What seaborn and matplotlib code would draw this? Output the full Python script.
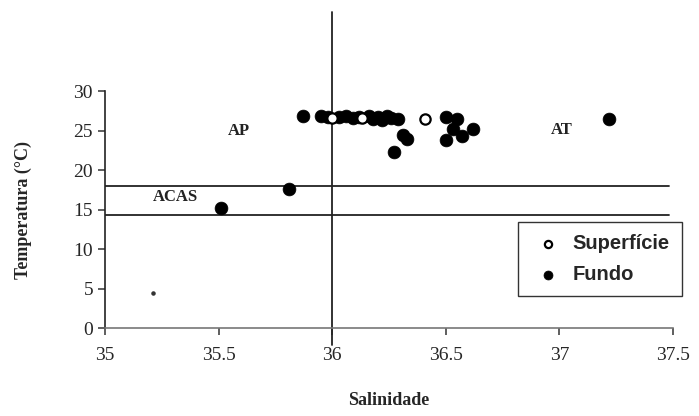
import matplotlib
matplotlib.use("Agg")
import matplotlib.pyplot as plt
import pandas as pd
import seaborn as sns

# stations
sup_sal = [36.00, 36.13, 36.41]
sup_temp = [26.6, 26.6, 26.5]

fundo_sal = [35.51, 35.81, 35.87, 35.95, 35.98, 36.03, 36.06, 36.09, 36.12,
             36.16, 36.18, 36.20, 36.22, 36.24, 36.26, 36.29, 36.27, 36.31,
             36.33, 36.50, 36.55, 36.53, 36.62, 36.50, 36.57, 37.22]
fundo_temp = [15.2, 17.6, 26.8, 26.9, 26.7, 26.7, 26.8, 26.6, 26.7,
              26.8, 26.5, 26.7, 26.4, 26.8, 26.6, 26.5, 22.3, 24.4,
              23.9, 26.7, 26.5, 25.2, 25.2, 23.8, 24.3, 26.5]

stray_sal = [35.21]
stray_temp = [4.4]

# water mass limits
lim_temp = [18.0, 14.3]
lim_sal = 36.0
masses = ["AP", "ACAS", "AT"]
mass_sal = [35.59, 35.31, 37.01]
mass_temp = [25.0, 16.6, 25.1]

x_ticks = [35, 35.5, 36, 36.5, 37, 37.5]
y_ticks = [0, 5, 10, 15, 20, 25, 30]

df = pd.concat([
    pd.DataFrame({"sal": fundo_sal, "temp": fundo_temp, "tipo": "Fundo"}),
    pd.DataFrame({"sal": sup_sal, "temp": sup_temp, "tipo": "Superfície"}),
], ignore_index=True)

sns.set_style("ticks")
plt.rcParams["font.family"] = ["Liberation Serif", "DejaVu Serif"]

fig = plt.figure(figsize=(6.99, 4.16), dpi=100)
ax = fig.add_axes([0.150, 0.2115, 0.813, 0.5695])

for t in lim_temp:
    ax.plot([35, 37.48], [t, t], color="#222222", lw=1.3, zorder=1)
ax.plot([lim_sal, lim_sal], [-2.2, 40.0], color="#222222", lw=1.3,
        clip_on=False, zorder=1)

sns.scatterplot(data=df[df.tipo == "Fundo"], x="sal", y="temp", ax=ax,
                color="black", edgecolor="black", s=85, linewidth=0.5,
                label="Fundo", zorder=3)
sns.scatterplot(data=df[df.tipo == "Superfície"], x="sal", y="temp", ax=ax,
                facecolor="white", edgecolor="black", s=55, linewidth=1.6,
                label="Superfície", zorder=4)
ax.scatter(stray_sal, stray_temp, s=5, color="#333333", zorder=3)

for name, sx, ty in zip(masses, mass_sal, mass_temp):
    ax.text(sx, ty, name, ha="center", va="center", fontsize=12,
            fontweight="bold", color="#222222")

ax.set_xlim(35, 37.5)
ax.set_ylim(0, 30)
ax.set_xticks(x_ticks)
ax.set_xticklabels([f"{v:g}" for v in x_ticks])
ax.set_yticks(y_ticks)
ax.tick_params(axis="both", labelsize=14, length=5, width=1.1,
               color="#333333")
ax.tick_params(axis="x", pad=9)
sns.despine(ax=ax)
ax.spines["left"].set_color("#222222")
ax.spines["left"].set_linewidth(1.2)
ax.spines["bottom"].set_color("#777777")
ax.spines["bottom"].set_linewidth(1.2)

ax.set_xlabel("Salinidade", fontsize=13, fontweight="bold", labelpad=20)
ax.set_ylabel("Temperatura (°C)", fontsize=13, fontweight="bold",
              labelpad=30)

handles, labels = ax.get_legend_handles_labels()
order = [labels.index("Superfície"), labels.index("Fundo")]
leg = ax.legend([handles[i] for i in order], [labels[i] for i in order],
                loc="upper left", bbox_to_anchor=(0.727, 0.447),
                borderaxespad=0, frameon=True, fancybox=False,
                edgecolor="black", handletextpad=0.3, borderpad=0.6,
                labelspacing=0.6, markerscale=0.7, handlelength=1.8,
                prop={"family": "Liberation Sans", "size": 14.5,
                      "weight": "bold"})
leg.get_frame().set_linewidth(1.0)

fig.savefig("out.png", dpi=100)
